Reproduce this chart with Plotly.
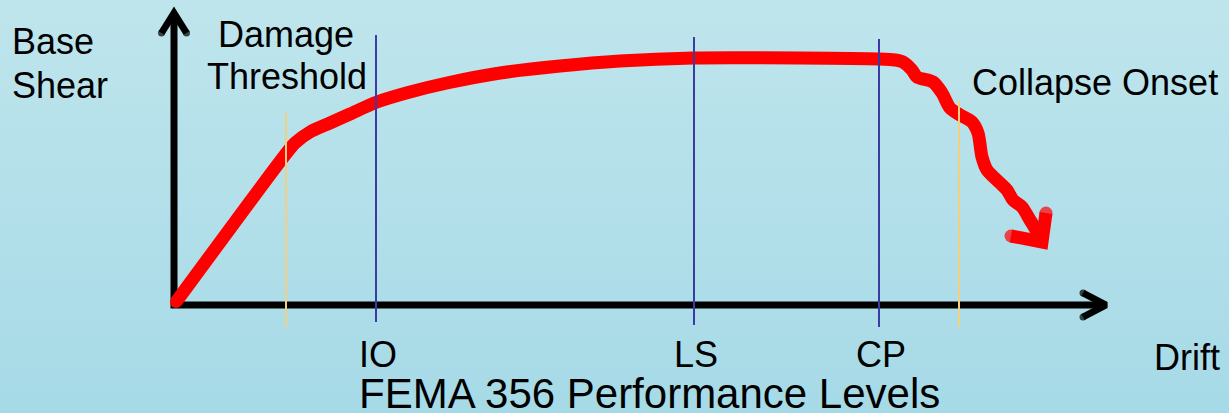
import plotly.graph_objects as go

# ---------------- data (chart units: drift to the right, base shear upward) ----
# pushover curve
drift = [2, 111, 121, 136, 156, 176, 203, 236, 273, 326, 386, 446, 519, 626, 705,
         721, 729, 738, 743, 759, 768, 776, 786, 798, 804, 808, 813, 826, 833, 839,
         848, 856, 862, 868]
shear = [3, 150, 162, 173, 182, 191, 203, 213, 222, 232, 239, 244, 247, 247, 246,
         245, 243, 235, 228, 223, 212, 197, 190, 183, 172, 148, 135, 122, 115, 105,
         98, 85, 75, 63]
# arrow head at the end of the curve (wing, tip, wing)
head_drift = [872, 868, 837]
head_shear = [92, 63, 69]

# FEMA 356 performance levels
level_labels = ["IO", "LS", "CP"]
level_drift = [202, 520, 705]
level_top = [270, 268, 266]
level_bottom = [-17, -20, -22]

# damage threshold / collapse onset markers
threshold_drift = [112, 785]
threshold_top = [192, 204]
threshold_bottom = [-22, -22]

# axes extent
x_axis_end = 932
y_axis_end = 292

# ---------------- styling ---------------------------------------------------
RED = "#FF0000"
BLUE = "#3B3BA6"
YELLOW = "#F3CF82"
BLACK = "#000000"
TOP_BG = "#BFE5EC"
BOT_BG = "#A6DAE7"
FONT = "Arial, Liberation Sans, sans-serif"

X0, X1 = -174, 1055
Y0, Y1 = -108, 305

fig = go.Figure()

# background gradient
fig.add_trace(go.Scatter(
    x=[X0, X1, X1, X0, X0], y=[Y0, Y0, Y1, Y1, Y0], mode="none",
    fill="toself",
    fillgradient=dict(type="vertical", colorscale=[[0, BOT_BG], [1, TOP_BG]]),
    hoverinfo="skip", showlegend=False))

NOLINE = dict(width=0)

# black axes
fig.add_trace(go.Scatter(x=[x_axis_end, 0, 0], y=[0, 0, y_axis_end], mode="lines",
                         line=dict(color=BLACK, width=7), showlegend=False, hoverinfo="skip"))
fig.add_trace(go.Scatter(x=[x_axis_end - 23, x_axis_end, x_axis_end - 23], y=[12, 0, -12],
                         mode="lines+markers", line=dict(color=BLACK, width=7),
                         marker=dict(color=BLACK, size=[7, 0, 7], line=NOLINE),
                         showlegend=False, hoverinfo="skip"))
fig.add_trace(go.Scatter(x=[-12.5, 0, 12.5], y=[y_axis_end - 20, y_axis_end, y_axis_end - 20],
                         mode="lines+markers", line=dict(color=BLACK, width=7),
                         marker=dict(color=BLACK, size=[7, 0, 7], line=NOLINE),
                         showlegend=False, hoverinfo="skip"))

# red pushover curve
fig.add_trace(go.Scatter(x=drift, y=shear, mode="lines",
                         line=dict(color=RED, width=13, shape="spline", smoothing=0.8),
                         showlegend=False, hoverinfo="skip"))
fig.add_trace(go.Scatter(x=head_drift, y=head_shear, mode="lines+markers",
                         line=dict(color=RED, width=13),
                         marker=dict(color=RED, size=[13, 0, 13], line=NOLINE),
                         showlegend=False, hoverinfo="skip"))
fig.add_trace(go.Scatter(x=[drift[0]], y=[shear[0]], mode="markers",
                         marker=dict(color=RED, size=12, line=NOLINE),
                         showlegend=False, hoverinfo="skip"))

# vertical marker lines
for d, t, b in zip(threshold_drift, threshold_top, threshold_bottom):
    fig.add_trace(go.Scatter(x=[d, d], y=[b, t], mode="lines",
                             line=dict(color=YELLOW, width=2), showlegend=False, hoverinfo="skip"))
for d, t, b in zip(level_drift, level_top, level_bottom):
    fig.add_trace(go.Scatter(x=[d, d], y=[b, t], mode="lines",
                             line=dict(color=BLUE, width=2), showlegend=False, hoverinfo="skip"))

# texts
def label(text, x, y, size=36, xanchor="center"):
    fig.add_annotation(text=text, x=x, y=y, xref="x", yref="y", showarrow=False,
                       xanchor=xanchor, yanchor="middle", borderpad=0,
                       font=dict(family=FONT, size=size, color=BLACK))

for name, d in zip(level_labels, level_drift):
    label(name, d + 2, -49)
label("Base", -163, 264, xanchor="left")
label("Shear", -163, 220, xanchor="left")
label("Damage", 112, 271)
label("Threshold", 113, 229)
label("Collapse Onset", 921, 223)
label("Drift", 1013, -52)
label("FEMA 356 Performance Levels", 475, -88, size=42)

fig.update_layout(
    width=1229, height=413,
    margin=dict(l=0, r=0, t=0, b=0),
    paper_bgcolor=BOT_BG, plot_bgcolor=BOT_BG,
    xaxis=dict(range=[X0, X1], visible=False, fixedrange=True),
    yaxis=dict(range=[Y0, Y1], visible=False, fixedrange=True),
    showlegend=False,
)

fig.write_html("out.html", config=dict(displayModeBar=False),
               post_script="document.body.style.margin='0';document.body.style.overflow='hidden';")
